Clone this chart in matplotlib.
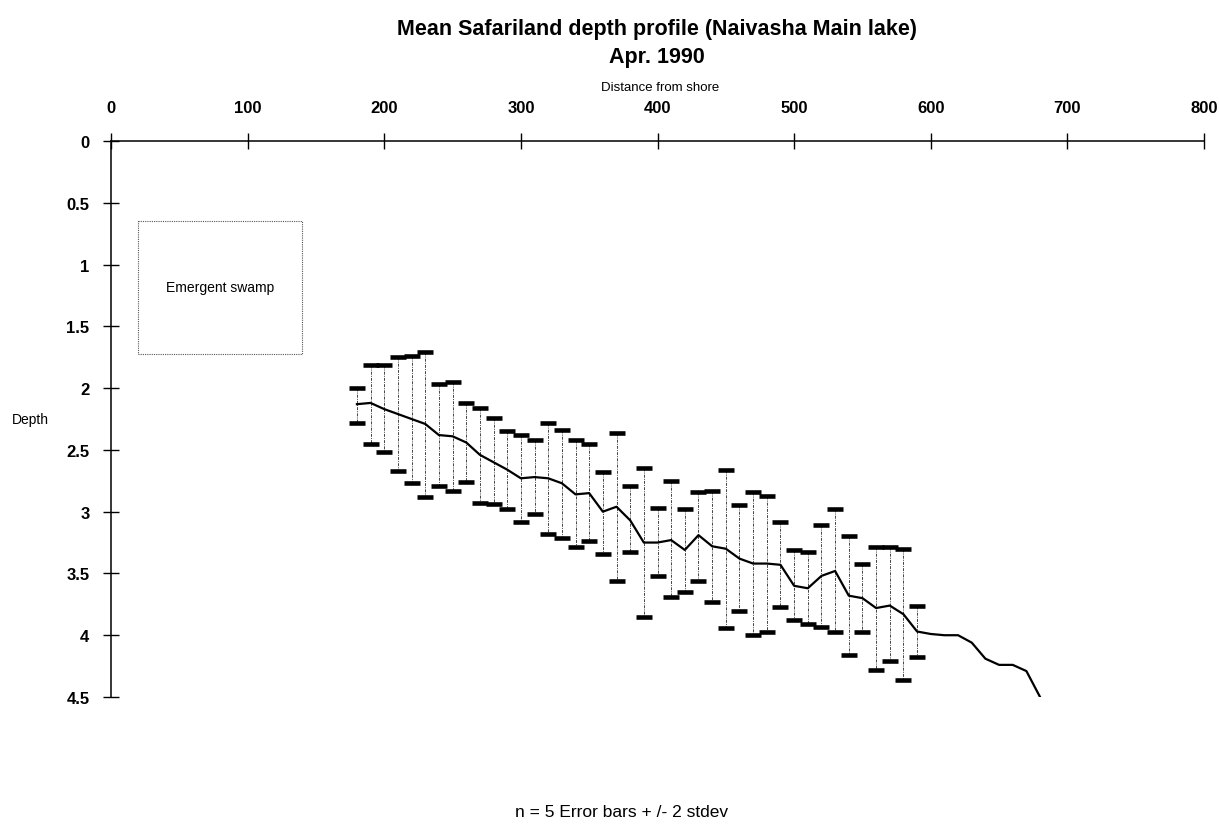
import numpy as np
import matplotlib
matplotlib.use("Agg")
from matplotlib import pyplot as plt
from matplotlib.patches import Rectangle

plt.rcParams['font.family'] = ['Liberation Sans', 'DejaVu Sans']

# distance from shore where the 5 soundings were averaged
dist_bars = [180, 190, 200, 210, 220, 230, 240, 250, 260, 270,
             280, 290, 300, 310, 320, 330, 340, 350, 360, 370,
             380, 390, 400, 410, 420, 430, 440, 450, 460, 470,
             480, 490, 500, 510, 520, 530, 540, 550, 560, 570,
             580, 590]
mean_bars = [2.13, 2.12, 2.17, 2.21, 2.25, 2.29, 2.38, 2.39, 2.44, 2.54,
             2.60, 2.66, 2.73, 2.72, 2.73, 2.77, 2.86, 2.85, 3.00, 2.96,
             3.07, 3.25, 3.25, 3.23, 3.31, 3.19, 3.28, 3.30, 3.38, 3.42,
             3.42, 3.43, 3.60, 3.62, 3.52, 3.48, 3.68, 3.70, 3.78, 3.76,
             3.83, 3.97]
top_bars = [2.00, 1.81, 1.81, 1.75, 1.74, 1.71, 1.97, 1.95, 2.12, 2.16,
            2.24, 2.35, 2.38, 2.42, 2.28, 2.34, 2.42, 2.45, 2.68, 2.36,
            2.79, 2.65, 2.97, 2.75, 2.98, 2.84, 2.83, 2.66, 2.95, 2.84,
            2.87, 3.08, 3.31, 3.33, 3.11, 2.98, 3.20, 3.42, 3.29, 3.29,
            3.30, 3.76]
bot_bars = [2.28, 2.45, 2.52, 2.67, 2.77, 2.88, 2.79, 2.83, 2.76, 2.93,
            2.94, 2.98, 3.08, 3.02, 3.18, 3.21, 3.29, 3.24, 3.34, 3.56,
            3.33, 3.85, 3.52, 3.69, 3.65, 3.56, 3.73, 3.94, 3.80, 4.00,
            3.97, 3.77, 3.88, 3.91, 3.93, 3.97, 4.16, 3.97, 4.28, 4.21,
            4.36, 4.18]

# rest of the profile (no error bars)
dist_tail = [600, 610, 620, 630, 640, 650, 660, 670, 680]
mean_tail = [3.99, 4.00, 4.00, 4.06, 4.19, 4.24, 4.24, 4.29, 4.50]

x_ticks = [0, 100, 200, 300, 400, 500, 600, 700, 800]
y_ticks = [0, 0.5, 1, 1.5, 2, 2.5, 3, 3.5, 4, 4.5]
y_labels = ['0', '0.5', '1', '1.5', '2', '2.5', '3', '3.5', '4', '4.5']

W, H = 1219, 829
fig = plt.figure(figsize=(W / 100, H / 100), dpi=100)
ax = fig.add_axes([111 / W, 1 - 698 / H, (1204 - 111) / W, (698 - 142) / H])

mean_bars = np.array(mean_bars)
yerr = [mean_bars - np.array(top_bars), np.array(bot_bars) - mean_bars]
eb = ax.errorbar(dist_bars, mean_bars, yerr=yerr, fmt='none', ecolor='black',
                 elinewidth=0.7, capsize=6, capthick=3.3)
eb[2][0].set_linestyle((0, (3, 1.2, 1, 1.2)))
eb[2][0].set_color('#444444')

ax.plot(list(dist_bars) + dist_tail, list(mean_bars) + mean_tail,
        color='black', lw=1.6)

# swamp area box
ax.add_patch(Rectangle((20, 0.65), 120, 1.07, fill=False, ls=(0, (1, 1)),
                       lw=0.8, ec='#555555'))
ax.text(80, 1.18, 'Emergent swamp', ha='center', va='center', fontsize=10)

ax.set_xlim(0, 800)
ax.set_ylim(4.5, 0)
ax.xaxis.tick_top()
ax.set_xticks(x_ticks)
ax.set_yticks(y_ticks)
ax.set_yticklabels(y_labels)
for s in ['right', 'bottom']:
    ax.spines[s].set_visible(False)
for s in ['left', 'top']:
    ax.spines[s].set_linewidth(1.1)
ax.tick_params(axis='x', direction='inout', length=11, width=1, pad=13,
               labelsize=12)
ax.tick_params(axis='y', direction='inout', length=11, width=1, pad=10,
               labelsize=12)
for lab in ax.get_xticklabels() + ax.get_yticklabels():
    lab.set_fontweight('bold')

fig.text(657 / W, 1 - 30 / H, 'Mean Safariland depth profile (Naivasha Main lake)',
         ha='center', va='center', fontsize=15.5, fontweight='bold')
fig.text(657 / W, 1 - 58 / H, 'Apr. 1990', ha='center', va='center',
         fontsize=15.5, fontweight='bold')
fig.text(660 / W, 1 - 88 / H, 'Distance from shore', ha='center', va='center',
         fontsize=9.5)
fig.text(12 / W, 1 - 420 / H, 'Depth', ha='left', va='center', fontsize=10)
fig.text(622 / W, 1 - 813 / H, 'n = 5 Error bars + /- 2 stdev', ha='center',
         va='center', fontsize=12.5)

plt.savefig('out.png', dpi=100)
